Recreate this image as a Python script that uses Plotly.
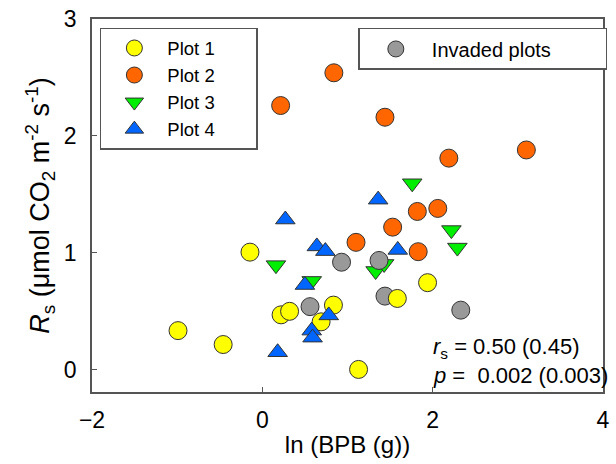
import plotly.graph_objects as go

# ---- data ----
plot1_x = [-0.99, -0.46, -0.145, 0.22, 0.32, 0.69, 0.835, 1.13, 1.585, 1.94]
plot1_y = [0.335, 0.216, 1.006, 0.47, 0.50, 0.41, 0.553, 0.003, 0.61, 0.745]

plot2_x = [0.215, 0.84, 1.44, 2.19, 3.10, 1.82, 2.06, 1.53, 1.10, 1.83]
plot2_y = [2.26, 2.54, 2.16, 1.81, 1.88, 1.354, 1.38, 1.22, 1.09, 1.01]

plot3_x = [0.16, 0.58, 1.76, 2.22, 2.29, 1.33, 1.43]
plot3_y = [0.895, 0.76, 1.595, 1.195, 1.045, 0.845, 0.905]

plot4_x = [0.27, 0.64, 0.74, 0.50, 0.78, 0.58, 0.59, 0.18, 1.36, 1.59]
plot4_y = [1.285, 1.055, 1.015, 0.725, 0.465, 0.335, 0.275, 0.15, 1.455, 1.025]

inv_x = [0.93, 0.56, 1.37, 1.44, 2.33]
inv_y = [0.92, 0.54, 0.935, 0.63, 0.51]

x_ticks = [-2, 0, 2, 4]
y_ticks = [0, 1, 2, 3]

FONT = "Arial, Liberation Sans, sans-serif"
EDGE = "#333333"
FRAME = "#555555"
NB = "\u00a0"

fig = go.Figure()

def add(x, y, name, color, symbol, size, rank, legend="legend"):
    fig.add_trace(go.Scatter(
        x=x, y=y, mode="markers", name=name, legend=legend, legendrank=rank,
        marker=dict(color=color, symbol=symbol, size=size,
                    line=dict(color=EDGE, width=1)),
    ))

# drawing order: green, gray, yellow, orange, blue
add(plot3_x, plot3_y, "Plot 3" + NB * 7, "#00EE00", "triangle-down", 17, 3)
add(inv_x, inv_y, "Invaded plots" + NB * 9, "#999999", "circle", 18, 1, "legend2")
add(plot1_x, plot1_y, "Plot 1" + NB * 7, "#FFFF00", "circle", 18, 1)
add(plot2_x, plot2_y, "Plot 2" + NB * 7, "#FF6600", "circle", 18, 2)
add(plot4_x, plot4_y, "Plot 4" + NB * 7, "#0066FF", "triangle-up", 17, 4)

axis_common = dict(
    showgrid=False, zeroline=False, showline=True, mirror=True,
    linecolor=FRAME, linewidth=1.5, ticks="inside", ticklen=5,
    tickcolor=FRAME, tickwidth=1, tickfont=dict(size=23, color="black", family=FONT),
)

fig.update_layout(
    width=616, height=464,
    margin=dict(l=92, r=6, t=16, b=72),
    paper_bgcolor="white", plot_bgcolor="white",
    font=dict(family=FONT, color="black"),
    xaxis=dict(range=[-2, 4], tickvals=x_ticks, ticklabelstandoff=7,
               title=dict(text="ln (BPB (g))", font=dict(size=24), standoff=4),
               **axis_common),
    yaxis=dict(range=[-0.19, 3.0], tickvals=y_ticks, ticklabelstandoff=9,
               title=dict(text="<i>R</i><sub>s</sub> (μmol CO<sub>2</sub> m<sup>-2</sup> s<sup>-1</sup>)",
                          font=dict(size=27), standoff=6),
               **axis_common),
    legend=dict(x=0.0154, y=0.976, xanchor="left", yanchor="top",
                bordercolor=FRAME, borderwidth=1.5, bgcolor="white",
                font=dict(size=18.5), itemwidth=56, tracegroupgap=0,
                traceorder="normal"),
    legend2=dict(x=0.5212, y=0.976, xanchor="left", yanchor="top",
                 bordercolor=FRAME, borderwidth=1.5, bgcolor="white",
                 font=dict(size=20), itemwidth=62),
    showlegend=True,
)

fig.add_annotation(xref="paper", yref="paper", x=0.663, y=0.118, xanchor="left", yanchor="middle",
                   text="<i>r</i><sub>s</sub> = 0.50 (0.45)", showarrow=False, font=dict(size=22))
fig.add_annotation(xref="paper", yref="paper", x=0.663, y=0.045, xanchor="left", yanchor="middle",
                   text="<i>p</i> =" + NB + NB + "0.002 (0.003)", showarrow=False, font=dict(size=22))

fig.write_html("out.html")
